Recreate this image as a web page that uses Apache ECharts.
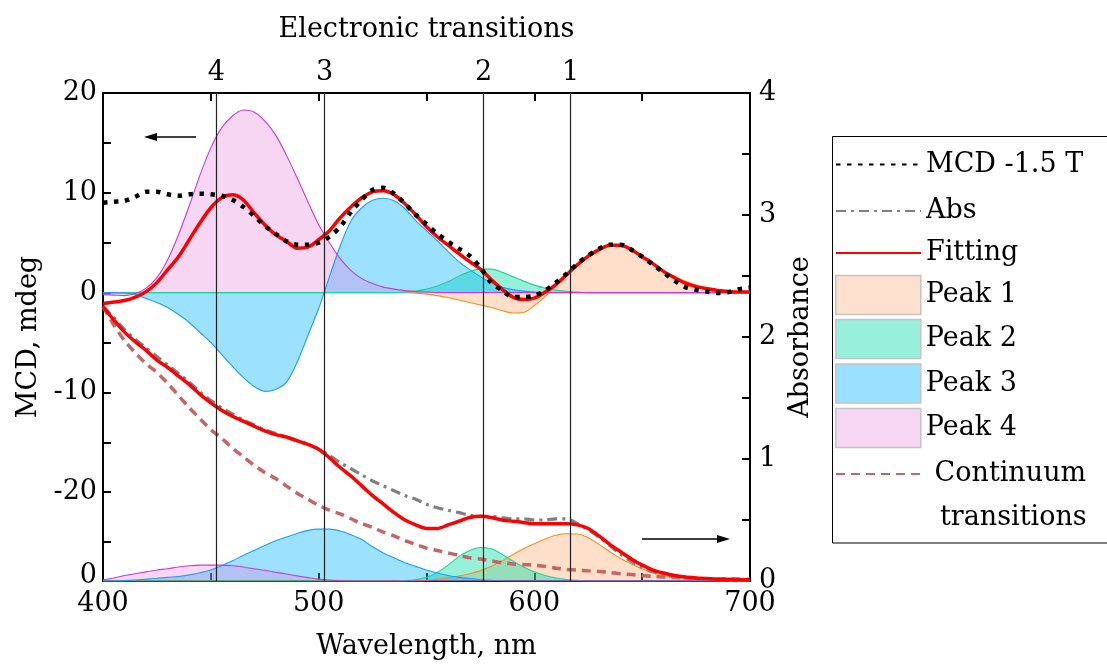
<!DOCTYPE html>
<html>
<head>
<meta charset="utf-8">
<script src="https://cdn.jsdelivr.net/npm/echarts@6.0.0/dist/echarts.min.js"></script>
<style>
html,body{margin:0;padding:0;background:#fff;}
#chart{width:1107px;height:665px;}
</style>
</head>
<body>
<div id="chart"></div>
<script>
// ---------- data ----------
const wavelength = [400,405,410,415,420,425,430,435,440,445,450,455,460,465,470,475,480,485,490,495,
  500,505,510,515,520,525,530,535,540,545,550,555,560,565,570,575,580,585,590,595,
  600,605,610,615,620,625,630,635,640,645,650,655,660,665,670,675,680,685,690,695,700];

const mcdMeasured = [9.0,9.1,9.2,9.6,10.1,10.1,9.85,9.7,9.85,9.9,
  9.85,9.7,9.3,8.6,7.7,6.7,5.9,5.15,4.8,4.8,
  5.0,5.6,6.6,8.1,9.3,10.3,10.5,9.9,8.9,7.8,
  6.85,5.9,5.1,4.4,3.7,2.5,1.0,0.25,-0.45,-0.45,
  -0.3,0.2,1.0,1.9,2.9,3.7,4.4,4.8,4.8,4.3,
  3.6,2.8,2.0,1.2,0.55,0.28,0.1,-0.05,0.05,0.35,0.5];

const mcdFit = [-1.1,-0.95,-0.8,-0.45,0.1,1.0,2.3,3.6,5.3,7.0,
  8.5,9.5,9.8,9.3,8.0,6.8,5.8,5.15,4.45,4.55,
  5.3,6.2,7.5,8.6,9.5,10.1,10.2,9.8,8.9,7.8,
  6.6,5.6,4.75,3.9,3.1,2.35,1.3,0.35,-0.45,-0.7,
  -0.55,0.05,0.8,1.8,2.8,3.65,4.3,4.75,4.75,4.3,
  3.6,2.9,2.1,1.5,0.95,0.6,0.38,0.22,0.12,0.06,0.05];

const mcdPeak1 = [0,0,0,0,0,0,0,0,0,0,0,0,0,0,0,0,0,0,0,0,0,0,0,0,0,0,0,0,0,
  -0.05,-0.15,-0.3,-0.5,-0.75,-1.0,-1.25,-1.5,-1.8,-2.05,-2.0,
  -1.3,-0.4,0.7,1.8,2.8,3.6,4.3,4.7,4.75,4.3,
  3.6,2.9,2.2,1.6,1.15,0.75,0.5,0.3,0.18,0.1,0.05];

const mcdPeak2 = [0,0,0,0,0,0,0,0,0,0,0,0,0,0,0,0,0,0,0,0,0,0,0,0,0,0,0,0,
  0.05,0.15,0.35,0.65,1.1,1.65,2.1,2.35,2.35,2.05,1.6,1.15,0.75,0.45,0.25,0.12,0.05,
  0,0,0,0,0,0,0,0,0,0,0,0,0,0,0,0];

const mcdPeak3 = [0,0,-0.05,-0.2,-0.6,-1.0,-1.5,-2.2,-3.0,-4.0,
  -5.0,-6.2,-7.4,-8.5,-9.4,-9.9,-9.7,-9.0,-7.0,-4.3,
  -1.6,1.6,4.7,7.2,8.5,9.25,9.45,9.2,8.4,7.2,
  6.2,5.2,4.1,3.1,2.3,1.6,1.0,0.55,0.3,0.15,
  0.05,0,0,0,0,0,0,0,0,0,0,0,0,0,0,0,0,0,0,0,0];

const mcdPeak4 = [-0.2,-0.25,-0.3,-0.1,0.45,1.5,3.3,5.8,8.7,11.8,
  14.5,16.5,17.7,18.3,18.1,17.2,15.8,13.8,11.5,9.1,
  6.8,5.0,3.4,2.2,1.4,0.9,0.55,0.35,0.2,0.1,
  0.05,0,0,0,0,0,0,0,0,0,0,0,0,0,0,0,0,0,0,0,0,0,0,0,0,0,0,0,0,0,0];

const absMeasured = [2.25,2.16,2.06,1.98,1.91,1.84,1.77,1.70,1.63,1.55,
  1.48,1.42,1.37,1.32,1.28,1.24,1.21,1.18,1.15,1.12,
  1.08,1.03,0.97,0.92,0.87,0.82,0.78,0.74,0.70,0.67,
  0.63,0.60,0.58,0.56,0.54,0.53,0.53,0.52,0.51,0.51,
  0.50,0.50,0.51,0.51,0.47,0.42,0.36,0.29,0.22,0.16,
  0.11,0.075,0.05,0.035,0.025,0.02,0.015,0.012,0.01,0.01,0.01];

const absFit = [2.25,2.14,2.04,1.96,1.89,1.81,1.75,1.68,1.61,1.53,
  1.46,1.40,1.35,1.31,1.27,1.23,1.20,1.18,1.15,1.12,
  1.08,1.01,0.93,0.86,0.78,0.70,0.63,0.56,0.50,0.46,
  0.43,0.43,0.46,0.49,0.52,0.53,0.52,0.50,0.49,0.48,
  0.47,0.47,0.47,0.47,0.46,0.43,0.37,0.30,0.24,0.18,
  0.13,0.09,0.065,0.045,0.032,0.025,0.02,0.015,0.014,0.012,0.01];

const absContinuum = [2.25,2.1,1.97,1.87,1.78,1.71,1.62,1.52,1.42,1.33,
  1.24,1.17,1.09,1.02,0.95,0.89,0.84,0.78,0.72,0.67,
  0.62,0.58,0.55,0.51,0.47,0.44,0.40,0.37,0.33,0.30,
  0.27,0.25,0.23,0.21,0.19,0.18,0.165,0.15,0.14,0.135,
  0.13,0.12,0.105,0.095,0.09,0.083,0.078,0.07,0.06,0.053,
  0.045,0.038,0.032,0.028,0.024,0.021,0.019,0.017,0.016,0.015,0.015];

const absPeak1 = [0,0,0,0,0,0,0,0,0,0,0,0,0,0,0,0,0,0,0,0,0,0,0,0,0,0,0,0,0,0,
  0.005,0.015,0.025,0.04,0.06,0.085,0.12,0.165,0.215,0.265,
  0.305,0.345,0.375,0.387,0.385,0.355,0.3,0.24,0.185,0.14,
  0.1,0.07,0.045,0.03,0.018,0.01,0.006,0.003,0,0,0];

const absPeak2 = [0,0,0,0,0,0,0,0,0,0,0,0,0,0,0,0,0,0,0,0,0,0,0,0,0,0,0,0,
  0.003,0.01,0.03,0.07,0.13,0.2,0.25,0.275,0.265,0.22,0.165,0.115,0.075,0.045,0.025,0.012,0.005,
  0,0,0,0,0,0,0,0,0,0,0,0,0,0,0,0];

const absPeak3 = [0,0,0.003,0.008,0.015,0.022,0.03,0.037,0.05,0.068,
  0.09,0.125,0.165,0.21,0.25,0.29,0.33,0.36,0.39,0.415,
  0.425,0.425,0.41,0.38,0.34,0.28,0.23,0.19,0.15,0.12,
  0.09,0.065,0.045,0.03,0.02,0.012,0.006,0.002,
  0,0,0,0,0,0,0,0,0,0,0,0,0,0,0,0,0,0,0,0,0,0,0];

const absPeak4 = [0.01,0.025,0.045,0.06,0.075,0.09,0.10,0.115,0.125,0.13,
  0.13,0.13,0.125,0.115,0.1,0.088,0.072,0.057,0.042,0.028,
  0.015,0.008,0.003,
  0,0,0,0,0,0,0,0,0,0,0,0,0,0,0,0,0,0,0,0,0,0,0,0,0,0,0,0,0,0,0,0,0,0,0,0,0,0,0,0];

const transitionPos = [452.6, 502.8, 576.5, 616.8];
const transitionLabels = ['4', '3', '2', '1'];

const xTickLabels = [400, 500, 600, 700];
const xTicks = [450, 500, 550, 600, 650];
const mcdTickLabels = [-20, -10, 0, 10, 20];
const mcdTicks = [-25, -20, -15, -10, -5, 0, 5, 10, 15];
const absTickLabels = [0, 1, 2, 3, 4];
const absTicks = [0.5, 1, 1.5, 2, 2.5, 3, 3.5];

const legendNames = ['MCD -1.5 T', 'Abs', 'Fitting', 'Peak 1', 'Peak 2', 'Peak 3', 'Peak 4', 'Continuum transitions'];

// ---------- chart ----------
const FONT = 'DejaVu Serif';
const FS = 27;
const pairs = arr => wavelength.map((w, i) => [w, arr[i]]);

const colors = {
  p1: {line: '#ff8c1a', fill: 'rgba(250,150,80,0.3)', legend: '#fde0cd'},
  p2: {line: '#1ed39a', fill: 'rgba(0,220,160,0.41)', legend: '#96f0dc'},
  p3: {line: '#1e9cff', fill: 'rgba(0,180,255,0.39)', legend: '#9be1ff'},
  p4: {line: '#c83cd2', fill: 'rgba(230,120,220,0.3)', legend: '#f8d7f5'}
};

function peak(name, arr, yIdx, c) {
  return {
    type: 'line', name: name, yAxisIndex: yIdx, data: pairs(arr),
    symbol: 'none', smooth: 0.3, silent: true, z: 2,
    lineStyle: {color: c.line, width: 1.1},
    itemStyle: {color: c.line},
    areaStyle: {color: c.fill, opacity: 1}
  };
}

const series = [
  peak('Peak 1', mcdPeak1, 0, colors.p1),
  peak('Peak 2', mcdPeak2, 0, colors.p2),
  peak('Peak 3', mcdPeak3, 0, colors.p3),
  peak('Peak 4', mcdPeak4, 0, colors.p4),
  peak('Peak 1', absPeak1, 1, colors.p1),
  peak('Peak 2', absPeak2, 1, colors.p2),
  peak('Peak 3', absPeak3, 1, colors.p3),
  peak('Peak 4', absPeak4, 1, colors.p4),
  {
    type: 'line', name: 'Continuum transitions', yAxisIndex: 1, data: pairs(absContinuum),
    symbol: 'none', smooth: 0.3, silent: true, z: 3,
    lineStyle: {color: '#c86464', width: 3.5, type: [9, 6]},
    itemStyle: {color: '#c86464'}
  },
  {
    type: 'line', name: 'Abs', yAxisIndex: 1, data: pairs(absMeasured),
    symbol: 'none', smooth: 0.3, silent: true, z: 3,
    lineStyle: {color: '#808080', width: 3.2, type: [10, 5, 3, 5]},
    itemStyle: {color: '#808080'}
  },
  {
    type: 'line', name: 'Fitting', yAxisIndex: 1, data: pairs(absFit),
    symbol: 'none', smooth: 0.3, silent: true, z: 4,
    lineStyle: {color: '#ff0000', width: 3.5},
    itemStyle: {color: '#ff0000'}
  },
  {
    type: 'line', name: 'Fitting', yAxisIndex: 0, data: pairs(mcdFit),
    symbol: 'none', smooth: 0.3, silent: true, z: 4,
    lineStyle: {color: '#ff0000', width: 3.5},
    itemStyle: {color: '#ff0000'},
    markLine: {
      silent: true, symbol: 'none', label: {show: false},
      lineStyle: {color: '#222', width: 1.2, type: 'solid'},
      data: transitionPos.map(v => ({xAxis: v}))
    }
  },
  {
    type: 'line', name: 'MCD -1.5 T', yAxisIndex: 0, data: pairs(mcdMeasured),
    symbol: 'none', smooth: 0.3, silent: true, z: 5,
    lineStyle: {color: '#000', width: 4.5, type: [4.5, 6.5], cap: 'butt'},
    itemStyle: {color: '#000'}
  }
];

const axisLineStyle = {show: true, onZero: false, lineStyle: {color: '#000', width: 2}};
const labelStyle = {color: '#000', fontFamily: FONT, fontSize: FS};
const rectBorder = {borderColor: '#c4c4c4', borderWidth: 1.5, opacity: 1};

// legend: one component per entry so each row sits where the reference has it
const legendCenters = [162.5, 209, 251, 295, 339, 383.5, 428, 472];
const legendItem = {
  'Peak 1': {icon: 'rect', itemStyle: Object.assign({color: colors.p1.legend}, rectBorder)},
  'Peak 2': {icon: 'rect', itemStyle: Object.assign({color: colors.p2.legend}, rectBorder)},
  'Peak 3': {icon: 'rect', itemStyle: Object.assign({color: colors.p3.legend}, rectBorder)},
  'Peak 4': {icon: 'rect', itemStyle: Object.assign({color: colors.p4.legend}, rectBorder)}
};
const legends = legendNames.map((name, i) => {
  const isRect = !!legendItem[name];
  const item = Object.assign({name: name}, isRect ? legendItem[name] : {itemStyle: {opacity: 0}});
  return {
    orient: 'vertical', left: 835, top: legendCenters[i] - (isRect ? 20.25 : 13.5), padding: 0,
    itemWidth: 85, itemHeight: 39, itemGap: 0,
    textStyle: labelStyle, selectedMode: false,
    formatter: n => n === 'Continuum transitions' ? ' Continuum' : n,
    data: [item]
  };
});

const option = {
  animation: false,
  backgroundColor: '#fff',
  grid: {left: 103, right: 357, top: 93, bottom: 80, containLabel: false},
  xAxis: [
    {
      type: 'value', position: 'bottom', min: 400, max: 700,
      axisLine: axisLineStyle,
      axisTick: {show: true, inside: true, length: 8, customValues: xTicks, lineStyle: {color: '#000', width: 2}},
      axisLabel: Object.assign({customValues: xTickLabels, margin: 9}, labelStyle),
      splitLine: {show: false},
      name: 'Wavelength, nm', nameLocation: 'middle', nameGap: 52,
      nameTextStyle: labelStyle
    },
    {
      type: 'value', position: 'top', min: 400, max: 700,
      axisLine: axisLineStyle,
      axisTick: {show: true, inside: true, length: 8, customValues: xTicks, lineStyle: {color: '#000', width: 2}},
      axisLabel: Object.assign({
        customValues: transitionPos, margin: 7,
        formatter: v => {
          const i = transitionPos.findIndex(p => Math.abs(p - v) < 1e-6);
          return i >= 0 ? transitionLabels[i] : '';
        }
      }, labelStyle),
      splitLine: {show: false},
      name: 'Electronic transitions', nameLocation: 'middle', nameGap: 50,
      nameTextStyle: labelStyle
    }
  ],
  yAxis: [
    {
      type: 'value', position: 'left', min: -28.9, max: 20,
      axisLine: axisLineStyle,
      axisTick: {show: true, inside: true, length: 8, customValues: mcdTicks, lineStyle: {color: '#000', width: 2}},
      axisLabel: Object.assign({customValues: mcdTickLabels, margin: 6}, labelStyle),
      splitLine: {show: false},
      name: 'MCD, mdeg', nameLocation: 'middle', nameGap: 58,
      nameTextStyle: labelStyle
    },
    {
      type: 'value', position: 'right', min: 0, max: 4,
      axisLine: axisLineStyle,
      axisTick: {show: true, inside: true, length: 8, customValues: absTicks, lineStyle: {color: '#000', width: 2}},
      axisLabel: Object.assign({customValues: absTickLabels, margin: 9}, labelStyle),
      splitLine: {show: false},
      name: 'Absorbance', nameLocation: 'middle', nameGap: 32,
      nameTextStyle: labelStyle
    }
  ],
  legend: legends,
  graphic: [
    {type: 'rect', silent: true, shape: {x: 832.5, y: 136.5, width: 290, height: 406.5},
     style: {fill: 'none', stroke: '#000', lineWidth: 1}},
    {type: 'text', silent: true, x: 940, y: 518,
     style: {text: 'transitions', fill: '#000', font: FS + 'px "' + FONT + '"', verticalAlign: 'middle', align: 'left'}},
    {type: 'text', silent: true, x: 97, y: 576,
     style: {text: '0', fill: '#000', font: FS + 'px "' + FONT + '"', verticalAlign: 'middle', align: 'right'}},
    {type: 'line', silent: true, shape: {x1: 152, y1: 137, x2: 196, y2: 137}, style: {stroke: '#000', lineWidth: 1.3}},
    {type: 'polygon', silent: true, shape: {points: [[144, 137], [157, 133], [157, 141]]}, style: {fill: '#000'}},
    {type: 'line', silent: true, shape: {x1: 642, y1: 539, x2: 722, y2: 539}, style: {stroke: '#000', lineWidth: 1.3}},
    {type: 'polygon', silent: true, shape: {points: [[730, 539], [717, 535], [717, 543]]}, style: {fill: '#000'}}
  ],
  series: series
};

const chart = echarts.init(document.getElementById('chart'), null, {renderer: 'canvas'});
chart.setOption(option);
</script>
</body>
</html>
